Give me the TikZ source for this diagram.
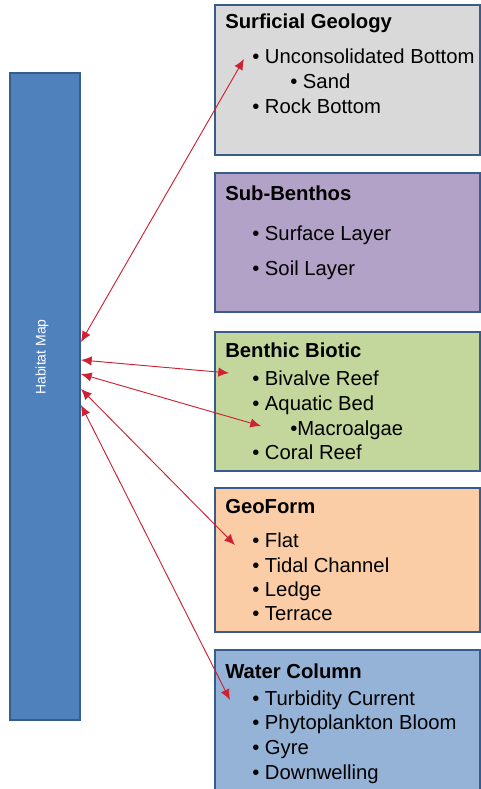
\documentclass[tikz,border=0pt]{standalone}
\usepackage{fontspec}
\setmainfont{Liberation Sans}
\usetikzlibrary{arrows.meta}

\definecolor{barblue}{HTML}{4F81BD}
\definecolor{edgeblue}{HTML}{385D8A}
\definecolor{geogray}{HTML}{D9D9D9}
\definecolor{subpurple}{HTML}{B3A2C7}
\definecolor{biogreen}{HTML}{C3D69B}
\definecolor{formpeach}{HTML}{FBCDA6}
\definecolor{waterblue}{HTML}{95B3D7}
\definecolor{linkred}{HTML}{CC2233}

\tikzset{
  layer/.style={draw=edgeblue, line width=1.5pt},
  head/.style={anchor=base west, inner sep=0pt, font=\fontsize{15.2}{18}\selectfont\bfseries},
  item/.style={anchor=base west, inner sep=0pt, font=\fontsize{15.2}{18}\selectfont},
  link/.style={linkred, line width=0.7pt, {Latex[length=8pt,width=7pt]}-{Latex[length=8pt,width=7pt]}}
}

\begin{document}
\begin{tikzpicture}[x=0.75pt, y=-0.75pt]
\useasboundingbox (0,0) rectangle (481,789);
\clip (0,0) rectangle (481,789);

% the map bar
\fill[barblue, draw=edgeblue, line width=1pt] (10,73) rectangle (80,720);
\node[rotate=90, text=white, font=\fontsize{10.5}{12}\selectfont] (map) at (42,357) {Habitat Map};

% the five layers
\filldraw[layer, fill=geogray]   (215,5)   rectangle (480,155);
\filldraw[layer, fill=subpurple] (215,173) rectangle (480,312);
\filldraw[layer, fill=biogreen]  (215,332) rectangle (480,471);
\filldraw[layer, fill=formpeach] (215,488) rectangle (480,632);
\filldraw[layer, fill=waterblue] (215,650) rectangle (480,800);

\node[head] (SG) at (225,28) {Surficial Geology};
\node[item] (UB) at (252,63) {• Unconsolidated Bottom};
\node[item] (Sd) at (290,88) {• Sand};
\node[item] (RB) at (252,113) {• Rock Bottom};

\node[head] (SB) at (225,200) {Sub-Benthos};
\node[item] (SL) at (252,240) {• Surface Layer};
\node[item] (So) at (252,275) {• Soil Layer};

\node[head] (BB) at (225,357) {Benthic Biotic};
\node[item] (BR) at (252,385) {• Bivalve Reef};
\node[item] (AB) at (252,410) {• Aquatic Bed};
\node[item] (Ma) at (290,435) {•Macroalgae};
\node[item] (CR) at (252,459) {• Coral Reef};

\node[head] (GF) at (225,513) {GeoForm};
\node[item] (Fl) at (252,547) {• Flat};
\node[item] (TC) at (252,572) {• Tidal Channel};
\node[item] (Le) at (252,596) {• Ledge};
\node[item] (Te) at (252,620) {• Terrace};

\node[head] (WC) at (225,678) {Water Column};
\node[item] (TuC) at (252,705) {• Turbidity Current};
\node[item] (PB) at (252,729) {• Phytoplankton Bloom};
\node[item] (Gy) at (252,754) {• Gyre};
\node[item] (Dw) at (252,779) {• Downwelling};

% link ends
\coordinate (m1) at (81,342);
\coordinate (m2) at (81,360);
\coordinate (m3) at (81,374);
\coordinate (m4) at (81,389);
\coordinate (m5) at (81,405);
\coordinate (t1) at (244,59);
\coordinate (t2) at (229,373);
\coordinate (t3) at (261,426);
\coordinate (t4) at (235,545);
\coordinate (t5) at (230,700);

\draw[link] (m1) -- (t1);
\draw[link] (m2) -- (t2);
\draw[link] (m3) -- (t3);
\draw[link] (m4) -- (t4);
\draw[link] (m5) -- (t5);
\end{tikzpicture}
\end{document}
